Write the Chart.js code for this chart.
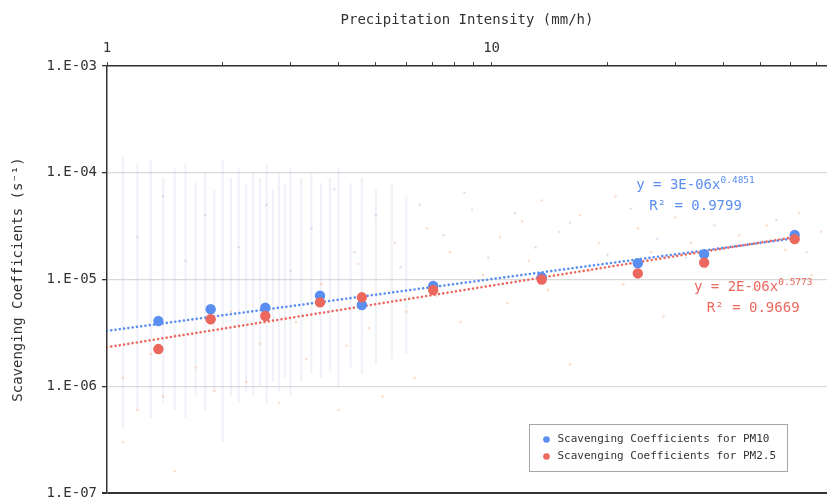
<!DOCTYPE html>
<html>
<head>
<meta charset="utf-8">
<script src="https://cdn.jsdelivr.net/npm/chart.js@4.4.1/dist/chart.umd.min.js"></script>
<style>
  html, body { margin: 0; padding: 0; background: #fff; }
  #wrap { width: 827px; height: 501px; position: relative; }
</style>
</head>
<body>
<div id="wrap"><canvas id="c"></canvas></div>
<script>
// Binned mean precipitation intensity (mm/h) and mean scavenging coefficients (1/s)
const intensity = [1.36, 1.86, 2.58, 3.58, 4.6, 7.05, 13.5, 24.0, 35.7, 61.4];
const pm10Coef  = [4.08e-6, 5.26e-6, 5.44e-6, 7.05e-6, 5.77e-6, 8.69e-6, 1.05e-5, 1.42e-5, 1.73e-5, 2.61e-5];
const pm25Coef  = [2.23e-6, 4.24e-6, 4.55e-6, 6.11e-6, 6.81e-6, 7.97e-6, 1.00e-5, 1.14e-5, 1.44e-5, 2.39e-5];
const seriesNames = ['Scavenging Coefficients for PM10', 'Scavenging Coefficients for PM2.5'];

// Power-law fits y = a * x^b for PM10 and PM2.5
const fitA  = [3.3e-6, 2.32e-6];
const fitB  = [0.4851, 0.5773];
const fitR2 = [0.9799, 0.9669];

// Axis ticks
const xTickValues = [1, 2, 3, 4, 5, 6, 7, 8, 9, 10, 20, 30, 40, 50, 60, 70];
const xLabelled   = [1, 10];
const yTickValues = [1e-7, 1e-6, 1e-5, 1e-4, 1e-3];

// Spread of individual observations per reported intensity class (min, max)
const rawX  = [1.1, 1.2, 1.3, 1.4, 1.5, 1.6, 1.7, 1.8, 1.9, 2.0, 2.1, 2.2, 2.3, 2.4, 2.5, 2.6, 2.7, 2.8, 2.9, 3.0, 3.2, 3.4, 3.6, 3.8, 4.0, 4.3, 4.6, 5.0, 5.5, 6.0];
const rawHi = [1.4e-4, 1.2e-4, 1.3e-4, 9e-5, 1.1e-4, 1.2e-4, 8e-5, 1.0e-4, 7e-5, 1.3e-4, 9e-5, 1.1e-4, 8e-5, 1.0e-4, 9e-5, 1.2e-4, 7e-5, 1.0e-4, 8e-5, 1.1e-4, 9e-5, 1.0e-4, 8e-5, 9e-5, 1.1e-4, 8e-5, 9e-5, 7e-5, 8e-5, 6e-5];
const rawLo = [4e-7, 6e-7, 5e-7, 7e-7, 6e-7, 5e-7, 8e-7, 6e-7, 9e-7, 3e-7, 8e-7, 7e-7, 9e-7, 8e-7, 1.0e-6, 7e-7, 1.1e-6, 9e-7, 1.2e-6, 8e-7, 1.1e-6, 1.3e-6, 1.2e-6, 1.4e-6, 1.0e-6, 1.5e-6, 1.3e-6, 1.6e-6, 1.8e-6, 2.0e-6];

// Individual observations (intensity, coefficient)
const rawPm25 = [
  [1.1,3e-7],[1.1,1.2e-6],[1.2,6e-7],[1.3,2e-6],[1.4,8e-7],[1.5,1.6e-7],[1.5,3e-6],[1.7,1.5e-6],
  [1.9,9e-7],[2.1,5e-6],[2.3,1.1e-6],[2.5,2.5e-6],[2.8,7e-7],[3.1,4e-6],[3.3,1.8e-6],[3.6,9e-6],
  [4.0,6e-7],[4.2,2.4e-6],[4.5,1.4e-5],[4.8,3.5e-6],[5.2,8e-7],[5.6,2.2e-5],[6.0,5e-6],[6.3,1.2e-6],
  [6.8,3e-5],[7.2,7e-6],[7.8,1.8e-5],[8.3,4e-6],[8.9,4.5e-5],[9.5,1.1e-5],[10.5,2.5e-5],[11,6e-6],
  [12,3.5e-5],[12.5,1.5e-5],[13.5,5.5e-5],[14,8e-6],[15,2.8e-5],[16,1.6e-6],[17,4e-5],[18,1.2e-5],
  [19,2.2e-5],[21,6e-5],[22,9e-6],[24,3e-5],[26,1.8e-5],[28,4.5e-6],[30,3.8e-5],[33,2.2e-5],
  [36,1.3e-5],[40,5e-5],[44,2.6e-5],[48,8e-6],[52,3.2e-5],[58,1.9e-5],[63,4.2e-5],[68,1.1e-5],[72,2.8e-5]
];
const rawPm10 = [
  [1.2,2.5e-5],[1.4,6e-5],[1.6,1.5e-5],[1.8,4e-5],[2.2,2e-5],[2.6,5e-5],[3.0,1.2e-5],[3.4,3e-5],
  [3.9,7e-5],[4.4,1.8e-5],[5.0,4e-5],[5.8,1.3e-5],[6.5,5e-5],[7.5,2.6e-5],[8.5,6.5e-5],[9.8,1.6e-5],
  [11.5,4.2e-5],[13,2e-5],[16,3.4e-5],[20,1.7e-5],[23,4.6e-5],[27,2.4e-5],[32,1.6e-5],[38,3.2e-5],
  [46,2.1e-5],[55,3.6e-5],[66,1.8e-5]
];

const BLUE = 'rgb(90,142,240)';
const RED = 'rgb(236,104,94)';
const FONT = "'DejaVu Sans Mono', monospace";

Chart.defaults.font.family = FONT;
Chart.defaults.color = '#333';

const pts = (xs, ys) => xs.map((x, i) => ({ x, y: ys[i] }));
const xMaxData = Math.max(...intensity);
const trend = i => [1, xMaxData].map(x => ({ x, y: fitA[i] * Math.pow(x, fitB[i]) }));

const streaks = [];
rawX.forEach((x, i) => {
  streaks.push({ x, y: rawLo[i] }, { x, y: rawHi[i] }, { x, y: null });
});

function coefText(a) {
  const [m, e] = a.toExponential(0).split('e');
  const n = Math.abs(+e);
  return m + 'E' + (+e < 0 ? '-' : '+') + String(n).padStart(2, '0');
}
function yTickText(v) {
  const e = Math.round(Math.log10(v));
  return '1.E' + (e < 0 ? '-' : '+') + String(Math.abs(e)).padStart(2, '0');
}

// Fit equations and R² drawn next to each trend line
const fitLabels = {
  id: 'fitLabels',
  afterDatasetsDraw(chart, args, opts) {
    const { ctx, scales: { x, y } } = chart;
    opts.anchors.forEach((an, i) => {
      const cx = x.getPixelForValue(an.x);
      const cy = y.getPixelForValue(an.y);
      const main = 'y = ' + coefText(fitA[i]) + 'x';
      const sup = fitB[i].toFixed(4);
      ctx.save();
      ctx.fillStyle = opts.colors[i];
      ctx.textBaseline = 'middle';
      ctx.font = '14px ' + FONT;
      const w1 = ctx.measureText(main).width;
      ctx.font = '9.5px ' + FONT;
      const w2 = ctx.measureText(sup).width;
      const sx = cx - (w1 + w2) / 2;
      ctx.textAlign = 'left';
      ctx.font = '14px ' + FONT;
      ctx.fillText(main, sx, cy);
      ctx.font = '9.5px ' + FONT;
      ctx.fillText(sup, sx + w1, cy - 4);
      ctx.font = '14px ' + FONT;
      ctx.textAlign = 'center';
      ctx.fillText('R² = ' + fitR2[i].toFixed(4), cx, cy + 21.5);
      ctx.restore();
    });
  }
};

// Boxed legend in the lower right of the plot area
const boxLegend = {
  id: 'boxLegend',
  afterDraw(chart, args, opts) {
    const { ctx, chartArea } = chart;
    ctx.save();
    ctx.font = '11px ' + FONT;
    const tw = Math.max(...opts.labels.map(t => ctx.measureText(t).width));
    const w = 28 + tw + 11;
    const h = 47;
    const right = chartArea.right - 40;
    const bottom = chartArea.bottom - 22;
    const left = right - w;
    const top = bottom - h;
    ctx.fillStyle = '#fff';
    ctx.fillRect(left, top, w, h);
    ctx.strokeStyle = '#a6a6a6';
    ctx.lineWidth = 1;
    ctx.strokeRect(Math.round(left) + 0.5, Math.round(top) + 0.5, Math.round(w), Math.round(h));
    opts.labels.forEach((t, i) => {
      const ry = top + 15.5 + i * 17;
      ctx.fillStyle = opts.colors[i];
      ctx.beginPath();
      ctx.arc(left + 17, ry, 3.3, 0, Math.PI * 2);
      ctx.fill();
      ctx.fillStyle = '#333';
      ctx.textBaseline = 'middle';
      ctx.textAlign = 'left';
      ctx.fillText(t, left + 28, ry);
    });
    ctx.restore();
  }
};

new Chart(document.getElementById('c'), {
  type: 'scatter',
  data: {
    datasets: [
      {
        label: 'observation spread',
        data: streaks,
        showLine: true,
        spanGaps: false,
        borderColor: 'rgba(185,192,225,0.2)',
        borderWidth: 2.2,
        pointRadius: 0,
        order: 10
      },
      {
        label: 'PM2.5 observations',
        data: rawPm25.map(([x, y]) => ({ x, y })),
        pointRadius: 1.3,
        pointBorderWidth: 0,
        backgroundColor: 'rgba(240,160,110,0.35)',
        order: 9
      },
      {
        label: 'PM10 observations',
        data: rawPm10.map(([x, y]) => ({ x, y })),
        pointRadius: 1.3,
        pointBorderWidth: 0,
        backgroundColor: 'rgba(160,172,220,0.35)',
        order: 8
      },
      {
        label: 'PM10 fit',
        data: trend(0),
        showLine: true,
        borderColor: BLUE,
        borderWidth: 2.6,
        borderDash: [0.01, 4.3],
        borderCapStyle: 'round',
        pointRadius: 0,
        order: 4
      },
      {
        label: 'PM2.5 fit',
        data: trend(1),
        showLine: true,
        borderColor: RED,
        borderWidth: 2.6,
        borderDash: [0.01, 4.3],
        borderCapStyle: 'round',
        pointRadius: 0,
        order: 3
      },
      {
        label: seriesNames[0],
        data: pts(intensity, pm10Coef),
        pointRadius: 5.2,
        pointBorderWidth: 0,
        backgroundColor: BLUE,
        order: 2
      },
      {
        label: seriesNames[1],
        data: pts(intensity, pm25Coef),
        pointRadius: 5.2,
        pointBorderWidth: 0,
        backgroundColor: RED,
        order: 1
      }
    ]
  },
  options: {
    responsive: true,
    maintainAspectRatio: false,
    animation: false,
    devicePixelRatio: 1,
    layout: { autoPadding: false, padding: { left: 0, right: 0, top: 0, bottom: 8 } },
    plugins: {
      legend: { display: false },
      tooltip: { enabled: false },
      fitLabels: {
        anchors: [{ x: 33.9, y: 7.68e-5 }, { x: 47.9, y: 8.51e-6 }],
        colors: [BLUE, RED]
      },
      boxLegend: { labels: seriesNames, colors: [BLUE, RED] }
    },
    scales: {
      x: {
        type: 'logarithmic',
        position: 'top',
        min: 1,
        max: 74.5,
        afterBuildTicks: s => { s.ticks = xTickValues.map(v => ({ value: v })); },
        afterFit: s => { s.height = 66; s.paddingLeft = 0; s.paddingRight = 0; },
        ticks: {
          autoSkip: false,
          maxRotation: 0,
          padding: 5,
          font: { size: 14, lineHeight: 1.2 },
          color: '#333',
          callback: v => xLabelled.includes(v) ? String(v) : ''
        },
        grid: {
          drawOnChartArea: false,
          drawTicks: true,
          tickLength: 4,
          tickColor: '#444',
          color: '#444'
        },
        border: { display: true, color: '#333', width: 1.5 },
        title: {
          display: true,
          text: 'Precipitation Intensity (mm/h)',
          font: { size: 14, lineHeight: 1.2 },
          color: '#333',
          padding: { top: 12, bottom: 0 }
        }
      },
      y: {
        type: 'logarithmic',
        position: 'left',
        min: 1e-7,
        max: 1e-3,
        afterBuildTicks: s => { s.ticks = yTickValues.map(v => ({ value: v })); },
        afterFit: s => { s.width = 107; s.paddingTop = 0; s.paddingBottom = 0; },
        ticks: {
          autoSkip: false,
          padding: 5,
          font: { size: 14, lineHeight: 1 },
          color: '#333',
          callback: v => yTickText(v)
        },
        grid: {
          drawTicks: true,
          tickLength: 5,
          tickColor: '#333',
          lineWidth: c => (c.tick && c.tick.value === yTickValues[0]) ? 2 : 1.3,
          color: c => (c.tick && c.tick.value === yTickValues[0]) ? '#333' : '#d9d9d9'
        },
        border: { display: true, color: '#333', width: 1.5 },
        title: {
          display: true,
          text: 'Scavenging Coefficients (s⁻¹)',
          font: { size: 14, lineHeight: 1.2 },
          color: '#333',
          padding: { top: 10, bottom: 0 }
        }
      }
    }
  },
  plugins: [fitLabels, boxLegend]
});
</script>
</body>
</html>
